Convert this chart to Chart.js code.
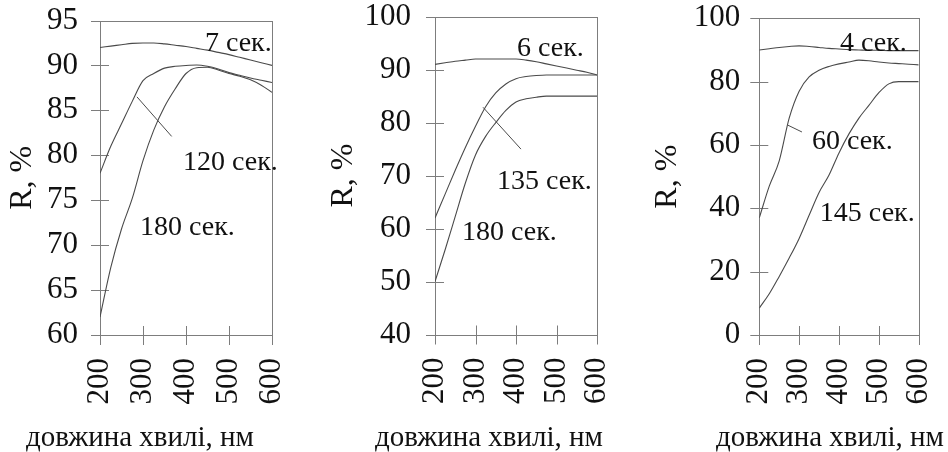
<!DOCTYPE html>
<html><head><meta charset="utf-8">
<script src="https://cdn.jsdelivr.net/npm/chart.js@4"></script>
<style>
html,body{margin:0;padding:0;background:#fff;overflow:hidden;width:948px;height:452px}
canvas.c{position:absolute;top:0}
</style></head><body>
<canvas id="c1" class="c" style="left:0px" width="310" height="452"></canvas>
<canvas id="c2" class="c" style="left:310px" width="320" height="452"></canvas>
<canvas id="c3" class="c" style="left:630px" width="318" height="452"></canvas>
<script>
// ---- data ----
const wavelengths = [200,225,250,275,300,325,350,375,400,425,450,475,500,525,550,575,600];
const xTicks = [200,300,400,500,600];
const xTitle = 'довжина хвилі, нм';
const yTitle = 'R, %';

// panel 1
const p1Names = ['7 сек.','120 сек.','180 сек.'];
const p1s7   = [92.0,92.15,92.3,92.45,92.5,92.5,92.4,92.25,92.1,91.9,91.7,91.45,91.2,90.9,90.6,90.3,90.0];
const p1s120 = [78.0,81.0,83.5,86.0,88.3,89.1,89.7,89.9,90.0,90.05,89.9,89.6,89.2,88.9,88.6,88.35,88.1];
const p1s180 = [62.0,67.5,71.8,75.2,79.4,82.8,85.4,87.4,89.1,89.75,89.8,89.5,89.1,88.8,88.4,87.8,87.0];
const p1YTicks = [60,65,70,75,80,85,90,95];

// panel 2
const p2Names = ['6 сек.','135 сек.','180 сек.'];
const p2s6   = [91.0,91.3,91.6,91.8,92.0,92.0,92.0,92.0,92.0,91.8,91.5,91.1,90.7,90.3,89.9,89.5,89.0];
const p2s135 = [62.0,66.5,71.0,75.3,79.3,83.0,85.6,87.3,88.3,88.7,88.9,89.0,89.0,89.0,89.0,89.0,89.0];
const p2s180 = [50.0,56.0,62.3,68.6,73.9,77.4,80.0,82.3,83.9,84.5,84.8,85.0,85.0,85.0,85.0,85.0,85.0];
const p2YTicks = [40,50,60,70,80,90,100];

// panel 3
const p3Names = ['4 сек.','60 сек.','145 сек.'];
const p3s4   = [90.0,90.4,90.8,91.1,91.3,91.1,90.8,90.5,90.3,90.1,90.0,89.9,89.9,89.8,89.8,89.8,89.8];
const p3s60  = [37.0,47.0,55.0,68.5,77.0,81.5,83.6,84.8,85.6,86.2,86.8,86.6,86.2,85.9,85.7,85.5,85.3];
const p3s145 = [8.5,13.0,18.5,24.3,30.5,37.8,45.0,50.5,57.5,63.5,68.5,72.5,76.5,79.3,80.0,80.0,80.0];
const p3YTicks = [0,20,40,60,80,100];

// ---- drawing ----
const FONT = "'Liberation Serif', 'Times New Roman', serif";
const TEXT = '#111';
const AXIS = '#7d7d7d';
const LINE = '#4a4a4a';

const deco = {
  id: 'deco',
  beforeDatasetsDraw(chart, args, o) {
    const {ctx, chartArea: ca, scales: {x, y}} = chart;
    const r = v => Math.round(v) + 0.5;
    ctx.save();
    ctx.strokeStyle = AXIS; ctx.lineWidth = 1;
    ctx.strokeRect(r(ca.left), r(ca.top), Math.round(ca.right) - Math.round(ca.left), Math.round(ca.bottom) - Math.round(ca.top));
    ctx.beginPath();
    y.ticks.forEach(t => { const py = r(y.getPixelForValue(t.value)); ctx.moveTo(ca.left - 9, py); ctx.lineTo(ca.left + 9, py); });
    x.ticks.forEach(t => { const px = r(x.getPixelForValue(t.value)); ctx.moveTo(px, ca.bottom - 9); ctx.lineTo(px, ca.bottom + 10); });
    ctx.stroke();
    ctx.restore();
  },
  afterDraw(chart, args, o) {
    const {ctx, scales: {x, y}} = chart;
    ctx.save();
    ctx.fillStyle = TEXT;
    ctx.font = '28px ' + FONT;
    ctx.textAlign = 'left';
    ctx.textBaseline = 'alphabetic';
    o.notes.forEach(n => ctx.fillText(n.text, x.getPixelForValue(n.x), y.getPixelForValue(n.y)));
    ctx.strokeStyle = LINE; ctx.lineWidth = 1;
    ctx.beginPath();
    const L = o.leader;
    ctx.moveTo(x.getPixelForValue(L[0]), y.getPixelForValue(L[1]));
    ctx.lineTo(x.getPixelForValue(L[2]), y.getPixelForValue(L[3]));
    ctx.stroke();
    ctx.font = '29px ' + FONT;
    ctx.textAlign = 'center';
    ctx.fillText(xTitle, o.titleX, o.titleY);
    ctx.restore();
  }
};

function makePanel(id, series, names, yTicks, geo, notes, leader) {
  const ds = series.map((s, i) => ({
    label: names[i],
    data: wavelengths.map((w, k) => ({x: w, y: s[k]})),
    borderColor: LINE, borderWidth: 1.1, pointRadius: 0, fill: false,
    cubicInterpolationMode: 'monotone'
  }));
  return new Chart(document.getElementById(id), {
    type: 'line',
    data: {datasets: ds},
    plugins: [deco],
    options: {
      responsive: false, animation: false, events: [],
      layout: {padding: {top: geo.top, right: geo.right, bottom: 0, left: 0}},
      plugins: {
        legend: {display: false}, tooltip: {enabled: false},
        deco: {notes, leader, titleX: geo.titleX, titleY: 446}
      },
      scales: {
        x: {
          type: 'linear', min: xTicks[0], max: xTicks[xTicks.length - 1],
          afterBuildTicks: s => { s.ticks = xTicks.map(v => ({value: v})); },
          afterFit: s => { s.height = 452 - geo.bottom; s.paddingLeft = 0; s.paddingRight = 0; },
          grid: {display: false, drawTicks: false}, border: {display: false},
          ticks: {autoSkip: false, maxRotation: 90, minRotation: 90, padding: 23, color: TEXT, font: {family: FONT, size: 31}}
        },
        y: {
          min: yTicks[0], max: yTicks[yTicks.length - 1],
          afterBuildTicks: s => { s.ticks = yTicks.map(v => ({value: v})); },
          afterFit: s => { s.width = geo.yw; s.paddingTop = 0; s.paddingBottom = 0; },
          grid: {display: false, drawTicks: false}, border: {display: false},
          ticks: {padding: geo.tp, color: TEXT, font: {family: FONT, size: 31}},
          title: {display: true, text: yTitle, color: TEXT, font: {family: FONT, size: 32}, padding: {top: geo.ytp, bottom: 0}}
        }
      }
    }
  });
}

makePanel('c1', [p1s7, p1s120, p1s180], p1Names, p1YTicks,
  {top: 20.5, right: 38, bottom: 335, yw: 100, tp: 22, ytp: 3.3, titleX: 140},
  [{text: p1Names[0], x: 444, y: 91.6}, {text: p1Names[1], x: 393, y: 78.4}, {text: p1Names[2], x: 293, y: 71.1}],
  [286, 86.5, 366.7, 82.1]);

makePanel('c2', [p2s6, p2s135, p2s180], p2Names, p2YTicks,
  {top: 16.7, right: 33, bottom: 334.5, yw: 125, tp: 24, ytp: 14.8, titleX: 179},
  [{text: p2Names[0], x: 402.5, y: 92.6}, {text: p2Names[1], x: 353, y: 67.5}, {text: p2Names[2], x: 266.7, y: 57.8}],
  [318.5, 82.9, 412.3, 75.0]);

makePanel('c3', [p3s4, p3s60, p3s145], p3Names, p3YTicks,
  {top: 18.3, right: 29.3, bottom: 335, yw: 129.3, tp: 19, ytp: 18.8, titleX: 200},
  [{text: p3Names[0], x: 402.5, y: 89.7}, {text: p3Names[1], x: 332, y: 58.7}, {text: p3Names[2], x: 352, y: 36.0}],
  [271, 66.3, 307, 64.1]);
</script>
</body></html>
